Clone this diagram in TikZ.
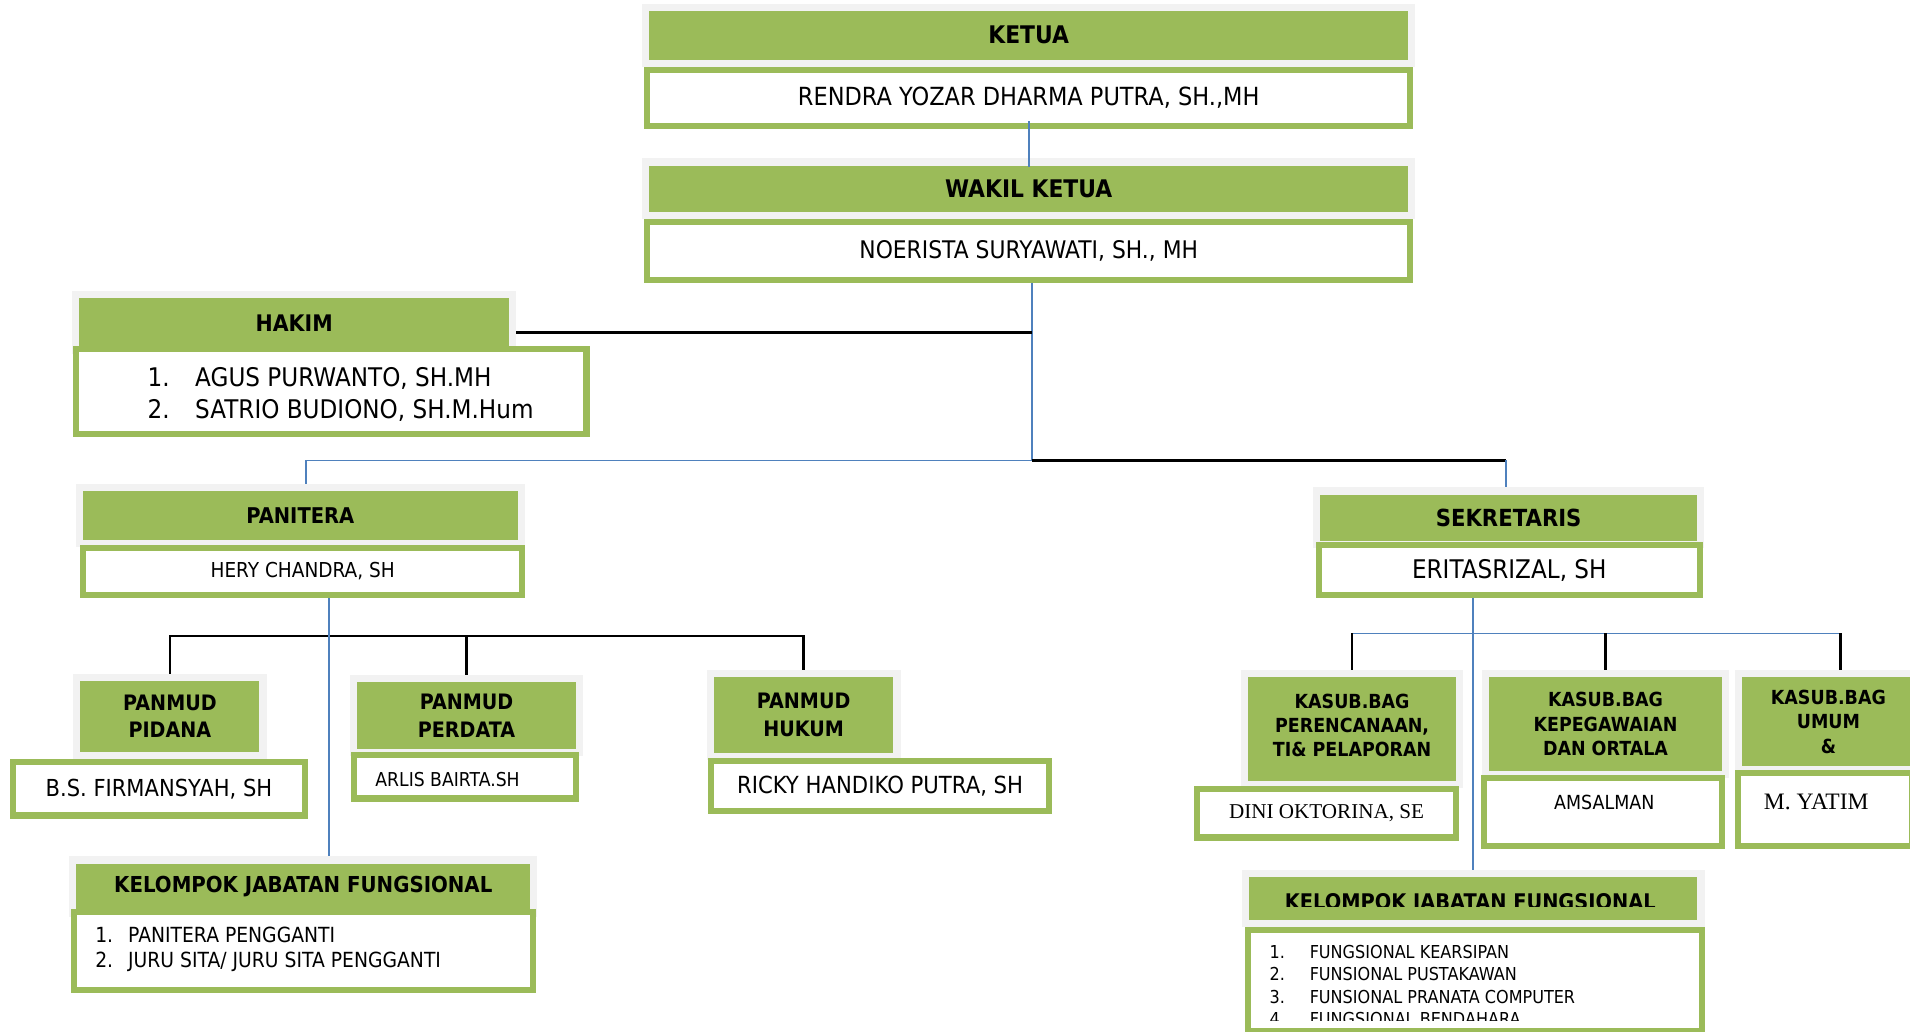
\documentclass[tikz,border=0pt]{standalone}
\usepackage{fontspec}
\setmainfont{DejaVu Sans}[FakeStretch=0.9]
\newfontfamily\timesname{Liberation Serif}

\definecolor{leaf}{HTML}{9BBB59}
\definecolor{framegrey}{HTML}{F2F2F2}
\definecolor{linkblue}{HTML}{4F81BD}

\newcommand{\pu}{0.3mm}
\newcommand{\sz}[2]{\fontsize{#1pt}{#2pt}\selectfont}

\tikzset{
  headbox/.style={fill=leaf, draw=framegrey, line width=1.8mm, inner sep=0pt, align=center},
  namebox/.style={fill=white, draw=leaf, line width=1.5mm, inner sep=0pt, align=center},
  entry/.style={inner sep=0pt, align=left},
  blueline/.style={draw=linkblue, line width=0.45mm},
  blackline/.style={draw=black, line width=0.6mm},
}

\begin{document}
\begin{tikzpicture}[x=\pu, y=-\pu]
	\clip (0,0) rectangle (1568,847);

	% kepala
	\node[headbox, minimum width=629*\pu, minimum height=46*\pu, font=\bfseries\sz{17}{20}] (ketua) at (844.5,29) {KETUA};
	\node[namebox, minimum width=626*\pu, minimum height=46*\pu, font=\sz{17.5}{21}] (ketuaName) at (844.5,80.5) {RENDRA YOZAR DHARMA PUTRA, SH.,MH};
	\node[headbox, minimum width=629*\pu, minimum height=44*\pu, font=\bfseries\sz{17}{20}] (wakil) at (844.5,155) {WAKIL KETUA};
	\node[namebox, minimum width=626*\pu, minimum height=47*\pu, font=\sz{17}{20}] (wakilName) at (844.5,206) {NOERISTA SURYAWATI, SH., MH};

	% hakim
	\node[headbox, minimum width=359*\pu, minimum height=46*\pu, font=\bfseries\sz{16}{19}] (hakim) at (241.5,265) {HAKIM};
	\node[namebox, minimum width=419*\pu, minimum height=70*\pu] (hakimName) at (272,321.5) {};
	\node[entry, anchor=north west, font=\sz{18}{22.2}] (hakimList) at (121,301.5)
		{\makebox[11.7mm][l]{1.}AGUS PURWANTO, SH.MH\\\makebox[11.7mm][l]{2.}SATRIO BUDIONO, SH.M.Hum};

	% kepaniteraan
	\node[headbox, minimum width=363*\pu, minimum height=46*\pu, font=\bfseries\sz{15.2}{18}] (panitera) at (246.5,423) {PANITERA};
	\node[namebox, minimum width=360*\pu, minimum height=39*\pu, font=\sz{14.4}{17}] (paniteraName) at (248.5,469) {HERY CHANDRA, SH};

	\node[headbox, minimum width=153*\pu, minimum height=64*\pu, font=\bfseries\sz{14.9}{19.6}] (pidana) at (139.5,588) {PANMUD\\PIDANA};
	\node[namebox, minimum width=240*\pu, minimum height=44*\pu, font=\sz{16.4}{19}] (pidanaName) at (130.5,647.5) {B.S. FIRMANSYAH, SH};
	\node[headbox, minimum width=186*\pu, minimum height=61*\pu, font=\bfseries\sz{14.9}{19.6}] (perdata) at (383,587.5) {PANMUD\\PERDATA};
	\node[namebox, minimum width=182*\pu, minimum height=36*\pu] (perdataName) at (381.5,637.5) {};
	\node[entry, anchor=west, font=\sz{13.4}{16}] (arlis) at (308,640) {ARLIS BAIRTA.SH};
	\node[headbox, minimum width=153.5*\pu, minimum height=68*\pu, font=\bfseries\sz{14.9}{19.6}] (hukum) at (659.75,587) {PANMUD\\HUKUM};
	\node[namebox, minimum width=278*\pu, minimum height=41*\pu, font=\sz{16.5}{19}] (hukumName) at (722.5,645) {RICKY HANDIKO PUTRA, SH};

	\node[headbox, minimum width=378.5*\pu, minimum height=44*\pu, font=\bfseries\sz{15.4}{18}] (kelompokA) at (249,728) {KELOMPOK JABATAN FUNGSIONAL};
	\node[namebox, minimum width=377*\pu, minimum height=64*\pu] (kelompokAName) at (249,780.5) {};
	\node[entry, anchor=north west, font=\sz{14.6}{17.1}] (kelompokAList) at (78,761)
		{\makebox[8.1mm][l]{1.}PANITERA PENGGANTI\\\makebox[8.1mm][l]{2.}JURU SITA/ JURU SITA PENGGANTI};

	% kesekretariatan
	\node[headbox, minimum width=315*\pu, minimum height=44*\pu, font=\bfseries\sz{16.5}{19}] (sekretaris) at (1238.5,425) {SEKRETARIS};
	\node[namebox, minimum width=313*\pu, minimum height=41*\pu, font=\sz{18}{21}] (sekretarisName) at (1239,468) {ERITASRIZAL, SH};

	\node[headbox, minimum width=176.5*\pu, minimum height=91*\pu, text depth=1.8mm, font=\bfseries\sz{13.6}{17}] (kasubA) at (1110,598.5) {KASUB.BAG\\PERENCANAAN,\\TI\& PELAPORAN};
	\node[namebox, minimum width=213*\pu, minimum height=40*\pu, font=\timesname\sz{14.8}{17}] (kasubAName) at (1089,667.5) {DINI OKTORINA, SE};
	\node[headbox, minimum width=196.5*\pu, minimum height=83*\pu, font=\bfseries\sz{13.6}{17}] (kasubB) at (1318,594.5) {KASUB.BAG\\KEPEGAWAIAN\\DAN ORTALA};
	\node[namebox, minimum width=195*\pu, minimum height=56*\pu] (kasubBName) at (1316,666.5) {};
	\node[entry, font=\sz{13.6}{16}] (amsalman) at (1317,659) {AMSALMAN};
	\node[headbox, minimum width=148*\pu, minimum height=79*\pu, font=\bfseries\sz{13.6}{17}] (kasubC) at (1501,592.5) {KASUB.BAG\\UMUM\\\&};
	\node[namebox, minimum width=143*\pu, minimum height=60*\pu] (kasubCName) at (1498,664.5) {};
	\node[entry, font=\timesname\sz{16.5}{19}] (yatim) at (1491,658) {M. YATIM};

	\node[headbox, minimum width=374*\pu, minimum height=41*\pu] (kelompokB) at (1209.5,737.5) {};
	\node[namebox, minimum width=373*\pu, minimum height=83*\pu] (kelompokBName) at (1211,805) {};
	\begin{scope}
		\clip (1025,720) rectangle (1393,744.5);
		\node[entry, font=\bfseries\sz{15.1}{18}] (kelompokBTitle) at (1207,742) {KELOMPOK JABATAN FUNGSIONAL};
	\end{scope}
	\begin{scope}
		\clip (1026,766) rectangle (1395,837.5);
		\node[entry, anchor=north west, font=\sz{12.5}{15.5}] (kelompokBList) at (1042,776)
			{\makebox[9.9mm][l]{1.}FUNGSIONAL KEARSIPAN\\\makebox[9.9mm][l]{2.}FUNSIONAL PUSTAKAWAN\\\makebox[9.9mm][l]{3.}FUNSIONAL PRANATA COMPUTER\\\makebox[9.9mm][l]{4.}FUNGSIONAL BENDAHARA};
	\end{scope}

	% garis
	\coordinate (hub) at (847,378);
	\coordinate (panbar) at (400,522);
	\coordinate (kasubbar) at (1511,520);
	\coordinate (hakimjoin) at ([yshift=-2.4mm]hakim.east);
	\coordinate (panline) at ([xshift=6.45mm]paniteraName.south);
	\coordinate (panup) at ([xshift=1.35mm]panitera.north);
	\coordinate (sekup) at ([xshift=-0.75mm]sekretaris.north);

	\draw[blueline] ([yshift=2mm]ketuaName.south) -- ([yshift=-2.1mm]wakil.north);
	\draw[blueline] (wakilName.south -| hub) -- (hub);
	\draw[blackline] (hakimjoin) -- (hakimjoin -| hub);
	\draw[blueline] (panup) |- (hub);
	\draw[blackline] (hub) -- (hub -| sekup);
	\draw[blueline] (hub -| sekup) -- (sekup);
	\draw[blackline] (pidana.north) -- (pidana.north |- panbar) -- (hukum.north |- panbar) -- (hukum.north);
	\draw[blackline] (perdata.north |- panbar) -- (perdata.north);
	\draw[blueline] (panline) -- (panline |- kelompokA.north);
	\draw[blueline] (kelompokB.north |- sekretarisName.south) -- (kelompokB.north);
	\draw[blueline] (kasubA.north |- kasubbar) -- (kasubbar);
	\draw[blackline] (kasubA.north |- kasubbar) -- (kasubA.north);
	\draw[blackline] (kasubB.north |- kasubbar) -- (kasubB.north);
	\draw[blackline] (kasubbar) -- (kasubbar |- kasubC.north);
\end{tikzpicture}
\end{document}
